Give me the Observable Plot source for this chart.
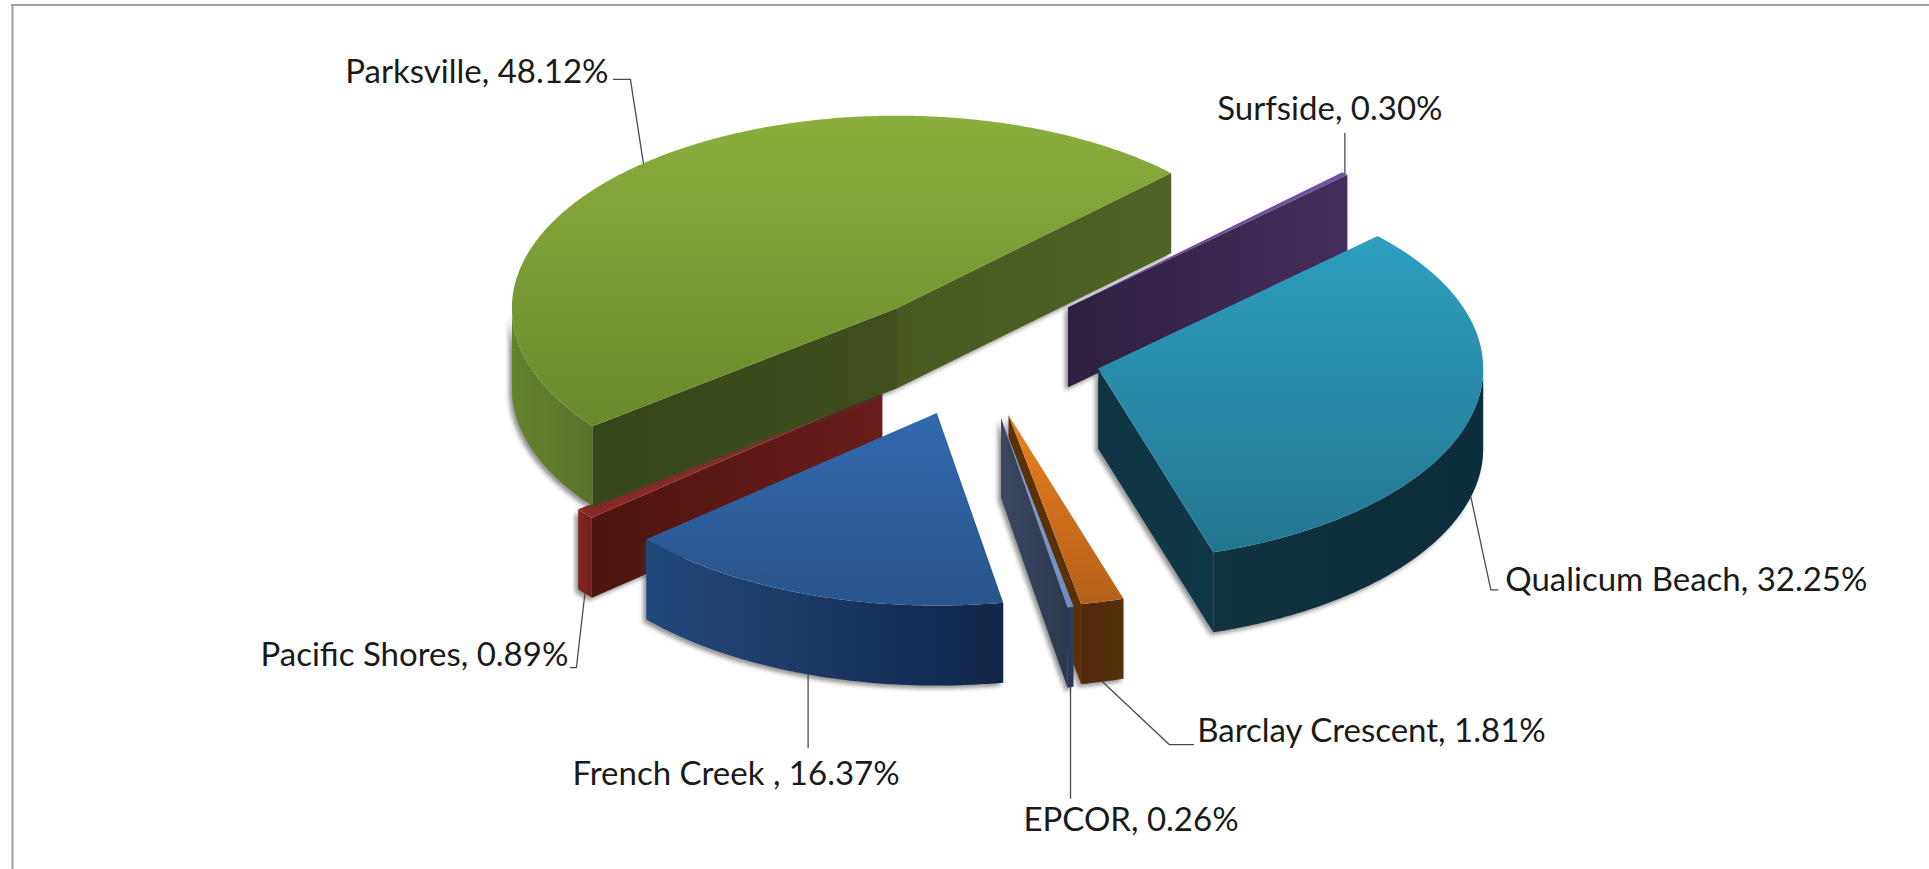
<!DOCTYPE html>
<html>
<head>
<meta charset="utf-8">
<script src="https://cdn.jsdelivr.net/npm/d3@7"></script>
<script src="https://cdn.jsdelivr.net/npm/@observablehq/plot@0.6"></script>
<style>
  html, body { margin: 0; padding: 0; background: #fff; }
  svg { display: block; }
</style>
</head>
<body>
<div id="chart"></div>
<script>
// Share of connections per service area, clockwise from the Parksville slice.
const towns = ["Parksville", "Surfside", "Qualicum Beach", "Barclay Crescent", "EPCOR", "French Creek ", "Pacific Shores"];
const shares = [48.12, 0.30, 32.25, 1.81, 0.26, 16.37, 0.89];
// How far each slice is pulled out of the pie, as a fraction of the radius.
const explosion = [0.306, 0.338, 0.332, 0.335, 0.345, 0.32, 0.318];
// Small hand adjustment of each slice after the pull, in pixels.
const sliceNudge = [[0, 0], [0, 0], [0, 0], [2.5, 0], [2.5, 0], [3.5, 2.5], [2.5, 0]];

// Pie layout, in units of the pie radius.
const firstAngle = 217.8;          // degrees, counterclockwise from the x axis
const tilt = 0.5;                  // vertical squash of the pie plane
const thickness = 0.2078;          // height of the extruded rim
const drawOrder = [1, 6, 0, 3, 4, 5, 2];

// Page geometry.
const width = 1929, height = 869, pxPerUnit = 385, pieX = 974, pieY = 352;

// Paints per slice, as [from, to] colours: top runs downward, side faces run left to right.
const sliceTop = [["#8bae3c", "#6a892d"], ["#7450a6", "#6a4698"], ["#2e9fbf", "#237591"], ["#e8801f", "#b5601a"], ["#81a3d6", "#6f8fc0"], ["#3269ae", "#28558c"], ["#962e2b", "#8a2725"]];
const sliceArc = [["#66832e", "#587229"], ["#4a3264", "#4a3264"], ["#10333f", "#0c2d3a"], ["#52290a", "#54300c"], ["#2a3852", "#2e3c58"], ["#21497c", "#122549"], ["#822522", "#70201e"]];
const sliceLow = [["#485a1f", "#506326"], ["#2e2040", "#442e5a"], ["#0f3542", "#0e3846"], ["#5a3006", "#5a3006"], ["#3a4860", "#2d384e"], ["#222", "#222"], ["#222", "#222"]];
const sliceHigh = [["#35461a", "#404f1c"], ["#222", "#222"], ["#222", "#222"], ["#222", "#222"], ["#222", "#222"], ["#222", "#222"], ["#4e140f", "#6a1d1b"]];

// Leader bends and label centres, in pixels away from the point where each leader meets its slice.
const leaderBends = [[[-13, -84], [-30, -84]], [[0, -40]], [[20, 93], [27, 93]], [[67, 63], [91, 63]], [[0, 111]], [[0, 73]], [[-8.5, 74], [-14.5, 74]]];
const labelOffsets = [[-166.5, -91], [-15, -64], [215.5, 83], [269, 50], [60.5, 133.5], [-72, 100], [-170.5, 62]];

const rad = Math.PI / 180;
const shadowFill = "#3d3d3d";

// Slice angle ranges, walking clockwise from the first angle.
let running = firstAngle;
const slices = shares.map((share, i) => {
  const high = running;
  const low = running - share * 3.6;
  running = low;
  const mid = (low + high) / 2;
  const cx = explosion[i] * Math.cos(mid * rad) + sliceNudge[i][0] / pxPerUnit;
  const cy = explosion[i] * tilt * Math.sin(mid * rad) - sliceNudge[i][1] / pxPerUnit;
  return {i, low, high, mid, cx, cy};
});

const rim = (s, t, z = 0) => ({x: s.cx + Math.cos(t * rad), y: s.cy + tilt * Math.sin(t * rad) + z});
const apex = (s, z = 0) => ({x: s.cx, y: s.cy + z});
const arcAngles = (s) => d3.range(s.low, s.high, 0.5).concat(s.high);

function facesOf(s) {
  const faces = [];
  // Straight cut faces that turn toward the viewer.
  const cut = (t, paint) => ({paint, points: [apex(s), rim(s, t), rim(s, t, -thickness), apex(s, -thickness)]});
  if (Math.cos(s.low * rad) > 0) faces.push(cut(s.low, `url(#low${s.i})`));
  if (Math.cos(s.high * rad) < 0) faces.push(cut(s.high, `url(#high${s.i})`));
  // Outer rim, only along the front of the pie.
  const front = arcAngles(s).filter((t) => Math.sin(t * rad) <= 1e-9);
  if (front.length > 1) {
    faces.push({
      paint: `url(#arc${s.i})`,
      points: [...front.map((t) => rim(s, t)), ...front.slice().reverse().map((t) => rim(s, t, -thickness))]
    });
  }
  // Top face last, so it covers whatever sits behind it.
  faces.push({
    paint: `url(#top${s.i})`,
    points: [apex(s), ...arcAngles(s).map((t) => rim(s, t))]
  });
  return faces;
}

// Gradient definitions used by the faces.
function gradients() {
  const defs = d3.create("svg:defs");
  const add = (id, [from, to], vertical) => {
    const g = defs.append("linearGradient").attr("id", id)
      .attr("x1", 0).attr("y1", 0).attr("x2", vertical ? 0 : 1).attr("y2", vertical ? 1 : 0);
    g.append("stop").attr("offset", "0%").attr("stop-color", from);
    g.append("stop").attr("offset", "100%").attr("stop-color", to);
  };
  slices.forEach(({i}) => {
    add(`top${i}`, sliceTop[i], true);
    add(`arc${i}`, sliceArc[i], false);
    add(`low${i}`, sliceLow[i], false);
    add(`high${i}`, sliceHigh[i], false);
  });
  const f = defs.append("filter").attr("id", "soft-shadow")
    .attr("x", "-10%").attr("y", "-10%").attr("width", "120%").attr("height", "120%");
  f.append("feGaussianBlur").attr("stdDeviation", 2.2);
  return defs.node();
}

const sliceMarks = drawOrder.flatMap((i) => {
  const faces = facesOf(slices[i]);
  const sides = faces.slice(0, -1);
  return [
    ...sides.map((face) => Plot.line(face.points, {x: "x", y: "y", fill: shadowFill, stroke: "none", fillOpacity: 0.55, dx: -3, dy: 3})),
    ...faces.map((face) => Plot.line(face.points, {x: "x", y: "y", fill: face.paint, stroke: "none"}))
  ];
});

// Leaders start on the rim at each slice's middle angle.
const unit = ([dx, dy]) => [dx / pxPerUnit, -dy / pxPerUnit];
const anchors = slices.map((s) => rim(s, s.mid, Math.sin(s.mid * rad) < 0 ? -thickness : 0));
const leaderPoints = anchors.flatMap((a, i) => [
  {town: towns[i], x: a.x, y: a.y},
  ...leaderBends[i].map((b) => {
    const [ux, uy] = unit(b);
    return {town: towns[i], x: a.x + ux, y: a.y + uy};
  })
]);
const labelPoints = anchors.map((a, i) => {
  const [ux, uy] = unit(labelOffsets[i]);
  return {text: `${towns[i]}, ${shares[i].toFixed(2)}%`, x: a.x + ux, y: a.y + uy};
});

const toX = (px) => (px - pieX) / pxPerUnit;
const toY = (px) => (pieY - px) / pxPerUnit;

const chart = Plot.plot({
  width, height,
  margin: 0,
  x: {domain: [toX(0), toX(width)], range: [0, width], axis: null},
  y: {domain: [toY(height), toY(0)], range: [height, 0], axis: null},
  marks: [
    gradients,
    Plot.ruleY([toY(4.5)], {x1: toX(11), x2: toX(width), stroke: "#a0a0a0", strokeWidth: 2}),
    Plot.ruleX([toX(12)], {y1: toY(4), y2: toY(height), stroke: "#a0a0a0", strokeWidth: 2}),
    ...sliceMarks,
    Plot.line(leaderPoints, {x: "x", y: "y", z: "town", stroke: "#4a4a4a", strokeWidth: 1.3}),
    Plot.text(labelPoints, {x: "x", y: "y", text: "text", fill: "#1a1a1a", fontSize: 33, fontFamily: "Lato"})
  ]
});
chart.style.background = "#fff";
chart.querySelectorAll(`g[fill="${shadowFill}"]`).forEach((g) => g.setAttribute("filter", "url(#soft-shadow)"));
document.getElementById("chart").append(chart);
</script>
</body>
</html>
